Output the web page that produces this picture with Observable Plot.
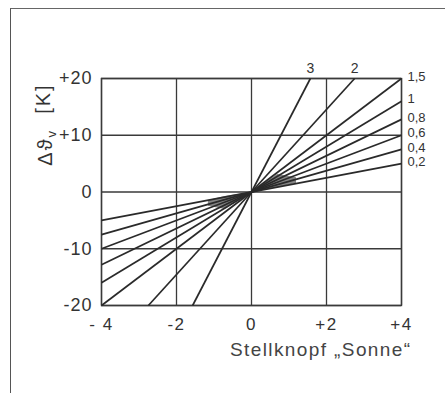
<!DOCTYPE html>
<html>
<head>
<meta charset="utf-8">
<script src="https://cdn.jsdelivr.net/npm/d3@7"></script>
<script src="https://cdn.jsdelivr.net/npm/@observablehq/plot@0.6"></script>
<style>
  html, body { margin: 0; padding: 0; background: #fff; }
  #wrap { position: relative; width: 445px; height: 393px; overflow: hidden; }
  #border { position: absolute; left: 10px; top: 8px; right: -5px; bottom: -5px;
            border-top: 1.5px solid #666; border-left: 1.5px solid #555; }
  svg { position: absolute; left: 0; top: 0; }
</style>
</head>
<body>
<div id="wrap"><div id="border"></div></div>
<script>
// Curve labels (slope parameter) and where each line meets the frame (upper-right end)
const curveLabels = ["3", "2", "1,5", "1", "0,8", "0,6", "0,4", "0,2"];
const curveXEnd   = [1.57, 2.75, 4, 4, 4, 4, 4, 4];
const curveYEnd   = [20, 20, 20, 16, 12.8, 10, 7.5, 5];

// Shaded band around the origin (right and left wedges): x, lower edge, upper edge
const shadeSide = ["l", "l", "l", "l", "r", "r", "r", "r"];
const shadeX    = [-1.15, -0.7, -0.2, 0,   0, 0.2, 0.7, 1.2];
const shadeLow  = [-2.5, -3.1, -0.9, 0,    0, 0.2, 0.8, 1.5];
const shadeHigh = [-1.5, -0.8, -0.25, 0,   0, 0.9, 3.1, 2.5];

// Axis ticks
const xTicks = [-4, -2, 0, 2, 4];
const xTickLabels = ["- 4", "-2", "0", "+2", "+4"];
const yTicks = [-20, -10, 0, 10, 20];
const yTickLabels = ["-20", "-10", "0", "+10", "+20"];

const xTitle = "Stellknopf \u201ESonne\u201C";
const yTitle = "\u0394\u03D1v [K]";

const curves = curveLabels.map((l, i) => ({label: l, x: curveXEnd[i], y: curveYEnd[i]}));
const shade = shadeX.map((x, i) => ({side: shadeSide[i], x, y1: shadeLow[i], y2: shadeHigh[i]}));
const topLabels = curves.filter(d => d.y === 20 && d.x < 4);
const rightLabels = curves.filter(d => d.x === 4);

const ink = "#333";
const font = "'Liberation Sans', Arial, Helvetica, sans-serif";

const chart = Plot.plot({
  width: 445,
  height: 393,
  marginLeft: 101,
  marginRight: 44,
  marginTop: 78,
  marginBottom: 88,
  style: {fontFamily: font, background: "transparent", color: ink},
  x: {domain: [-4, 4]},
  y: {domain: [-20, 20]},
  marks: [
    Plot.gridX(xTicks, {stroke: "#3a3a3a", strokeOpacity: 1, strokeWidth: 1.3}),
    Plot.gridY(yTicks, {stroke: "#3a3a3a", strokeOpacity: 1, strokeWidth: 1.3}),
    Plot.frame({stroke: "#3a3a3a", strokeWidth: 1.4}),
    Plot.areaY(shade, {x: "x", y1: "y1", y2: "y2", z: "side", fill: "#858585", fillOpacity: 1}),
    Plot.link(curves, {x1: d => -d.x, y1: d => -d.y, x2: "x", y2: "y", stroke: "#2a2a2a", strokeWidth: 1.7}),
    Plot.text(topLabels, {x: "x", y: "y", text: "label", dy: -10, fontSize: 14, fill: ink}),
    Plot.text(rightLabels, {x: "x", y: "y", text: "label", dx: 6, dy: -2, textAnchor: "start", fontSize: 13, fill: ink}),
    Plot.axisX(xTicks, {tickSize: 0, tickPadding: 12, fontSize: 17, label: null,
      tickFormat: (d) => xTickLabels[xTicks.indexOf(d)], fill: ink, className: "xax"}),
    Plot.axisY(yTicks, {tickSize: 0, tickPadding: 9, fontSize: 18, label: null,
      tickFormat: (d) => yTickLabels[yTicks.indexOf(d)], fill: ink, className: "yax"}),
    Plot.text([xTitle], {frameAnchor: "bottom-right", dx: 10, dy: 50, textAnchor: "end", fontSize: 19, fill: "#444", className: "xtitle"}),
    Plot.text([yTitle], {frameAnchor: "top-left", dx: -64, dy: 46, rotate: -90, textAnchor: "middle", fontSize: 20, fill: ink, className: "ytitle"})
  ]
});

document.getElementById("wrap").appendChild(chart);

d3.select(chart).selectAll("g.xax text").style("letter-spacing", "1.5px");
d3.select(chart).selectAll("g.yax text").style("letter-spacing", "1px");
d3.select(chart).selectAll("g.xtitle text").style("letter-spacing", "1.4px");

// Render subscript "v" in the y title
d3.select(chart).selectAll("g.ytitle text").each(function () {
  const t = d3.select(this);
  t.style("letter-spacing", "2px");
  t.text(null);
  t.append("tspan").text("\u0394\u03D1");
  t.append("tspan").attr("dy", "0.3em").attr("font-size", "13").text("v");
  t.append("tspan").attr("dy", "-0.3em").text("\u00A0 [K]");
});
</script>
</body>
</html>
